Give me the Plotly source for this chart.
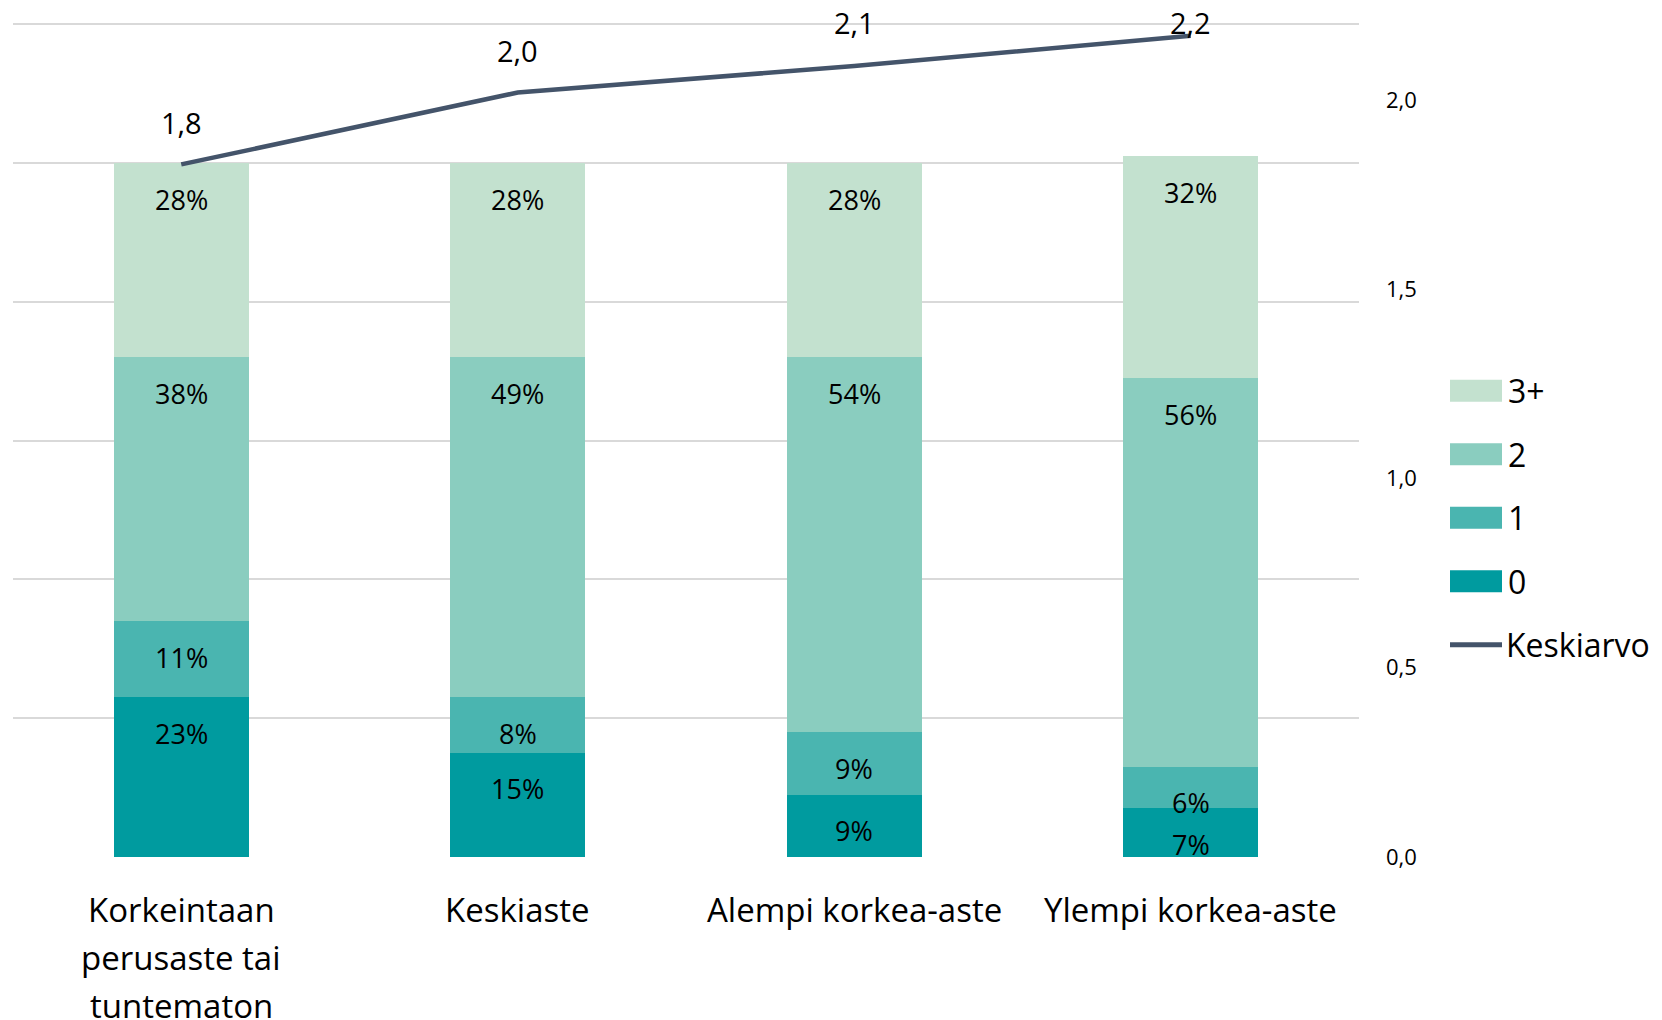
import plotly.graph_objects as go

categories = ["Korkeintaan perusaste tai tuntematon", "Keskiaste", "Alempi korkea-aste", "Ylempi korkea-aste"]
category_lines = [["Korkeintaan", "perusaste tai", "tuntematon"], ["Keskiaste"], ["Alempi korkea-aste"], ["Ylempi korkea-aste"]]
series_names = ["0", "1", "2", "3+"]
values_0 = [23, 15, 9, 7]
values_1 = [11, 8, 9, 6]
values_2 = [38, 49, 54, 56]
values_3 = [28, 28, 28, 32]
mean_name = "Keskiarvo"
mean_values = [1.83, 2.02, 2.09, 2.17]
mean_labels = ["1,8", "2,0", "2,1", "2,2"]

colors = ["#009B9F", "#4AB5B0", "#8ACDBF", "#C3E1CF"]
line_color = "#44546A"
FONT = "Open Sans"
Y2MAX = 2.2

# page offset (body margin) and plot-area placement in page pixels
OFF = 8
PL, PR, PT, PB = 13, 1359, 23, 857.5
W, H = 1654, 1012


def px_x(px):
    return (px - PL) / (PR - PL)


def px_y(py):
    return (PB - py) / (PB - PT)


fig = go.Figure()
series = [values_0, values_1, values_2, values_3]
for i, (name, vals) in enumerate(zip(series_names, series)):
    fig.add_trace(go.Bar(
        x=categories, y=vals, name=name, marker=dict(color=colors[i], line=dict(width=0)),
        hoverinfo="x+y+name",
    ))

fig.add_trace(go.Scatter(
    x=categories, y=mean_values, name=mean_name, mode="lines", yaxis="y2",
    line=dict(color=line_color, width=4.5),
))

annotations = []
shapes = []
# bar labels near top of each segment
for ci, cat in enumerate(categories):
    cum = 0
    for s in series:
        cum += s[ci]
        annotations.append(dict(x=cat, y=cum, xref="x", yref="y", text=f"{s[ci]}%",
                                showarrow=False, yanchor="middle", yshift=-36,
                                font=dict(family=FONT, size=27, color="#000")))
# mean labels (kept inside the plot area at the top)
for ci, cat in enumerate(categories):
    ly = mean_values[ci] + 0.112
    shift = 0
    if ly > Y2MAX:
        ly, shift = Y2MAX, 2
    annotations.append(dict(x=cat, y=ly, xref="x", yref="y2", yshift=shift,
                            text=mean_labels[ci], showarrow=False, yanchor="middle",
                            font=dict(family=FONT, size=29, color="#000")))
# category labels
for ci, cat in enumerate(categories):
    for li, line in enumerate(category_lines[ci]):
        annotations.append(dict(x=cat, y=0, xref="x", yref="y", text=line, showarrow=False,
                                yanchor="middle", yshift=-52 - 48 * li,
                                font=dict(family=FONT, size=33, color="#000")))

# legend (manual, to match swatch size)
legend_items = list(zip(series_names, colors))[::-1]
leg_y0 = 391
leg_step = 63.5
for k, (name, col) in enumerate(legend_items):
    cy = leg_y0 + k * leg_step
    shapes.append(dict(type="rect", xref="paper", yref="paper",
                       x0=px_x(1450), x1=px_x(1502), y0=px_y(cy + 11), y1=px_y(cy - 11),
                       fillcolor=col, line=dict(width=0)))
    annotations.append(dict(x=px_x(1506), y=px_y(cy), xref="paper", yref="paper", text=name,
                            showarrow=False, xanchor="left", yanchor="middle",
                            font=dict(family=FONT, size=32, color="#000")))
cy = leg_y0 + 4 * leg_step
shapes.append(dict(type="line", xref="paper", yref="paper",
                   x0=px_x(1450), x1=px_x(1502), y0=px_y(cy), y1=px_y(cy),
                   line=dict(color=line_color, width=5)))
annotations.append(dict(x=px_x(1504), y=px_y(cy), xref="paper", yref="paper", text=mean_name,
                        showarrow=False, xanchor="left", yanchor="middle",
                        font=dict(family=FONT, size=32, color="#000")))

fig.update_layout(
    width=W, height=H,
    margin=dict(l=PL - OFF, r=W + OFF - PR, t=PT - OFF, b=H + OFF - PB, autoexpand=False),
    barmode="stack", bargap=0.6,
    plot_bgcolor="white", paper_bgcolor="white",
    separators=", ",
    font=dict(family=FONT, color="#000"),
    xaxis=dict(showticklabels=False, showline=False, showgrid=False, zeroline=False),
    yaxis=dict(range=[0, 120.2], tickvals=[0, 20, 40, 60, 80, 100, 120], showticklabels=False,
               showgrid=True, gridcolor="#D9D9D9", gridwidth=1.5, zeroline=False),
    yaxis2=dict(overlaying="y", side="right", range=[0, Y2MAX * 120.2 / 120],
                tickvals=[0, 0.5, 1.0, 1.5, 2.0],
                tickformat=".1f", showgrid=False, zeroline=False, showline=False,
                ticklabelstandoff=26, tickfont=dict(family=FONT, size=22, color="#000")),
    annotations=annotations,
    shapes=shapes,
    showlegend=False,
)

fig.write_html("out.html")
